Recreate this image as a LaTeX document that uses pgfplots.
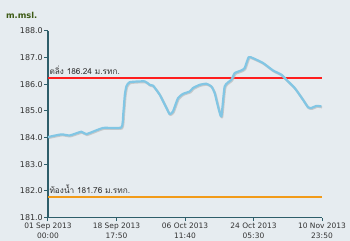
\documentclass[border=0pt]{standalone}
\usepackage{fontspec}
\setmainfont{DejaVu Sans}
\newfontfamily\thaifont[Script=Thai]{Loma}
\usepackage{pgfplots}
\pgfplotsset{compat=1.18}
\definecolor{bgc}{RGB}{230,236,240}
\definecolor{axc}{RGB}{46,94,106}
\definecolor{txc}{RGB}{50,50,50}
\definecolor{lvl}{RGB}{130,198,228}
\definecolor{redl}{RGB}{255,30,30}
\definecolor{bedcol}{RGB}{242,155,25}
\definecolor{ttl}{RGB}{60,90,20}
\begin{document}
\begin{tikzpicture}
\fill[bgc] (-48bp,-23.5bp) rectangle (302bp,217.5bp);
\begin{axis}[
  scale only axis,
  width=274bp, height=186.5bp,
  xmin=0, xmax=70.972,
  ymin=181, ymax=188,
  axis x line=bottom, axis y line=left,
  axis line style={-, draw=axc, line width=1.2bp},
  xtick={0,17.743,35.486,53.229,70.972},
  xticklabels={{01 Sep 2013\\00:00},{18 Sep 2013\\17:50},{06 Oct 2013\\11:40},{24 Oct 2013\\05:30},{10 Nov 2013\\23:50}},
  x tick label style={align=center, font=\fontsize{7.5}{10}\selectfont, text=txc, inner sep=1.5bp},
  ytick={181,182,...,188},
  y tick label style={font=\fontsize{8}{9}\selectfont, text=txc, /pgf/number format/fixed, /pgf/number format/fixed zerofill, /pgf/number format/precision=1, inner sep=1.5bp},
  /pgf/number format/assume math mode=true,
  tick align=outside,
  major tick length=3.5bp,
  tick style={draw=axc, line width=1bp},
  xtick pos=bottom, ytick pos=left,
  clip=false,
]
\addplot[draw=redl, line width=1.4bp] coordinates {(0,186.24) (70.972,186.24)};
\addplot[color=bedcol, line width=1.8bp] coordinates {(0,181.76) (70.972,181.76)};
\pgfplotstableread{
d v
0 184.02
3.47 184.12
5.62 184.08
8.65 184.22
9.95 184.13
14.25 184.36
19.0 184.38
19.5 184.9
19.9 185.6
20.3 185.92
21.16 186.08
25.04 186.11
26.34 185.98
27.20 185.95
28.93 185.61
30.67 185.11
31.52 184.88
32.37 184.98
33.67 185.48
34.97 185.64
36.70 185.73
37.56 185.86
39.29 185.98
41.03 186.02
42.32 185.92
43.18 185.67
44.03 185.17
44.91 184.79
45.77 185.92
47.50 186.17
48.36 186.42
50.09 186.52
50.95 186.61
51.98 187.02
53.10 186.98
55.68 186.80
58.28 186.52
60.45 186.36
61.74 186.17
63.90 185.86
66.05 185.42
67.34 185.14
68.22 185.11
69.52 185.19
70.81 185.17
}\lvltab
\addplot[gray!60, opacity=0.6, line width=2.2bp, smooth, tension=0.3, line join=round, shift={(0.7bp,-0.9bp)}] table[x=d,y=v] {\lvltab};
\addplot[lvl, line width=2.2bp, smooth, tension=0.3, line join=round] table[x=d,y=v] {\lvltab};
\node[anchor=south west, inner sep=0pt, text=txc, font=\thaifont\fontsize{8.3}{9}\selectfont] at (axis cs:0.35,186.36) {ตลิ่ง 186.24 ม.รทก.};
\node[anchor=south west, inner sep=0pt, text=txc, font=\thaifont\fontsize{8.3}{9}\selectfont] at (axis cs:0.35,181.88) {ท้องน้ำ 181.76 ม.รทก.};
\end{axis}
\node[anchor=center, text=ttl, font=\bfseries\fontsize{8.3}{9}\selectfont] at (-26.3bp,202.5bp) {m.msl.};
\end{tikzpicture}
\end{document}
